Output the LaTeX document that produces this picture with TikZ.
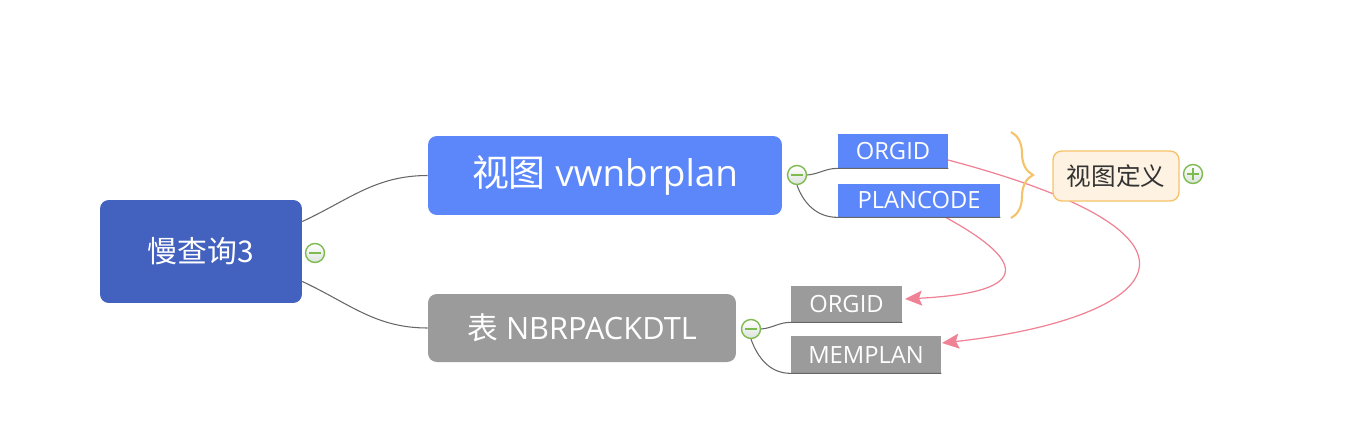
\documentclass[tikz,border=0pt]{standalone}
\usepackage{fontspec}
\setmainfont{Open Sans}
\newfontfamily\cjk{Noto Sans CJK SC}
\usepackage{tikz}
\usetikzlibrary{positioning,arrows.meta,decorations.pathreplacing,calc}
\definecolor{rootblue}{HTML}{4361BF}
\definecolor{mainblue}{HTML}{5B87FA}
\definecolor{boxgray}{HTML}{9B9B9B}
\definecolor{linegray}{HTML}{666666}
\definecolor{relpink}{HTML}{EF8294}
\definecolor{notefill}{HTML}{FEF3E3}
\definecolor{noteline}{HTML}{F5C36B}
\definecolor{knobgreen}{HTML}{7DBB4F}
\newcommand{\fs}[1]{\fontsize{#1}{#1}\selectfont}
\tikzset{
  topic/.style={rectangle, rounded corners=5pt, text=white, inner sep=0pt},
  leaf/.style={rectangle, text=white, inner sep=0pt, font=\fs{13.5pt}},
  knob/.style={circle, draw=knobgreen, line width=0.8pt, top color=white, bottom color=green!10!gray!25, minimum size=0.38cm, inner sep=0pt},
  branch/.style={draw=linegray, line width=0.6pt},
  rel/.style={draw=relpink, line width=0.7pt, -{Stealth[length=0.34cm, width=0.3cm, inset=0.06cm]}}
}
\begin{document}
\begin{tikzpicture}[x=0.02cm, y=-0.02cm]
    \useasboundingbox (0,0) rectangle (1356,430);
    % relation lines go under the boxes
    \coordinate (r1s) at (948,160);
    \coordinate (r2s) at (945,217);
    \path[rel] (r1s) .. controls (1250,240) and (1150,320) .. (942,343);
    \path[rel] (r2s) .. controls (1020,258) and (1040,292) .. (905,299);

    \node[topic, fill=rootblue, minimum width=4.04cm, minimum height=2.06cm, font=\cjk\fs{17pt}] (root) at (201,251.5) {慢查询3};
    \node[topic, fill=mainblue, minimum width=7.08cm, minimum height=1.58cm, font=\fs{21pt}] (view) at (605,175.5) {{\cjk 视图} vwnbrplan};
    \node[topic, fill=boxgray, minimum width=6.16cm, minimum height=1.36cm, font=\fs{17.5pt}] (tbl) at (582,328) {{\cjk 表} NBRPACKDTL};

    \node[leaf, fill=mainblue, minimum width=2.2cm, minimum height=0.68cm] (vorg) at (893,151) {ORGID};
    \node[leaf, fill=mainblue, minimum width=3.24cm, minimum height=0.66cm] (vplan) at (919,200.5) {PLANCODE};
    \node[leaf, fill=boxgray, minimum width=2.22cm, minimum height=0.72cm] (torg) at (846.5,304) {ORGID};
    \node[leaf, fill=boxgray, minimum width=3.0cm, minimum height=0.74cm] (tmem) at (866,354.5) {MEMPLAN};

    \node[rectangle, rounded corners=5pt, draw=noteline, fill=notefill, line width=0.8pt, text=black!80, minimum width=2.52cm, minimum height=1.0cm, font=\cjk\fs{14pt}] (def) at (1116,176) {视图定义};

    \node[knob] (k0) at (315,253) {};
    \node[knob] (k1) at (797,175) {};
    \node[knob] (k2) at (751,329) {};
    \node[knob] (kp) at (1193,174) {};
    \foreach \k in {k0,k1,k2,kp}
        \draw[knobgreen, line width=1pt] ([xshift=-0.12cm]\k.center) -- ([xshift=0.12cm]\k.center);
    \draw[knobgreen, line width=1pt] ([yshift=-0.12cm]kp.center) -- ([yshift=0.12cm]kp.center);

    \draw[branch] ([yshift=0.6cm]root.east) to[out=25, in=180] (view.west);
    \draw[branch] ([yshift=-0.6cm]root.east) to[out=-25, in=180] (tbl.west);
    \draw[branch] (k1.east) to[out=5, in=180] (vorg.south west) -- (vorg.south east);
    \draw[branch] (k1.south) to[out=-70, in=180] (vplan.south west) -- (vplan.south east);
    \draw[branch] (k2.east) to[out=5, in=180] (torg.south west) -- (torg.south east);
    \draw[branch] (k2.south) to[out=-70, in=180] (tmem.south west) -- (tmem.south east);

    \draw[noteline, line width=1.2pt, decorate, decoration={brace, amplitude=0.44cm}] (1011,132) -- (1011,218);
\end{tikzpicture}
\end{document}
